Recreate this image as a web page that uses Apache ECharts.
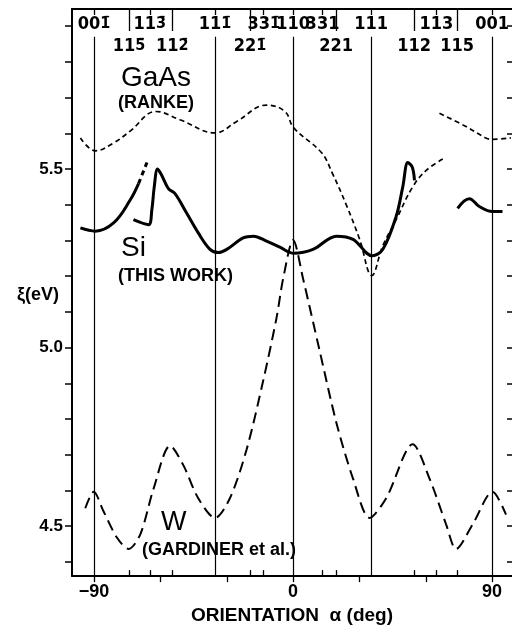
<!DOCTYPE html>
<html>
<head>
<meta charset="utf-8">
<script src="https://cdn.jsdelivr.net/npm/echarts@6/dist/echarts.min.js"></script>
<style>html,body{margin:0;padding:0;background:#fff}#c{width:512px;height:630px}</style>
</head>
<body>
<div id="c"></div>
<script>
// ---- data ----
const xMin = -100, xMax = 99, yMin = 4.36, yMax = 5.948;
const gaasLeft = [[-96.2,5.587],[-89.4,5.551],[-81.2,5.573],[-73.7,5.606],[-62.0,5.661],[-51.2,5.638],[-35.3,5.601],[-25.5,5.633],[-12.0,5.679],[-3.7,5.661],[0.3,5.615],[12.8,5.546],[17.9,5.486],[24.1,5.399],[30.1,5.303],[35.6,5.202],[40.5,5.284],[46.6,5.358],[54.1,5.450],[60.2,5.496],[67.7,5.528]];
const gaasRight = [[66.2,5.656],[78.2,5.619],[87.2,5.587],[90.2,5.583],[98.5,5.587]];
const siA = [[-96.2,5.335],[-89.4,5.326],[-81.2,5.349],[-73.7,5.413],[-69.9,5.459]];
const siAext = [[-69.9,5.459],[-66.1,5.518]];
const siB = [[-72.2,5.358],[-65.4,5.344],[-63.9,5.385],[-62.8,5.450],[-61.3,5.500],[-59.4,5.482],[-56.4,5.445],[-53.4,5.431],[-48.1,5.376],[-42.9,5.321],[-37.6,5.275],[-33.8,5.266],[-30.0,5.275],[-22.6,5.307],[-18.0,5.312],[-12.0,5.298],[-6.0,5.281],[0.3,5.264],[9.0,5.275],[19.6,5.312],[27.1,5.303],[35.8,5.257],[40.6,5.275],[46.6,5.367],[49.6,5.450],[51.9,5.518],[53.9,5.505],[54.9,5.468]];
const siC = [[74.4,5.390],[79.7,5.417],[84.2,5.395],[90.2,5.381],[94.7,5.381]];
const wData = [[-94.0,4.550],[-90.2,4.596],[-85.7,4.541],[-79.7,4.468],[-74.4,4.436],[-69.1,4.477],[-63.1,4.605],[-55.6,4.725],[-49.6,4.670],[-42.9,4.578],[-35.3,4.523],[-28.6,4.578],[-21.0,4.715],[-13.5,4.908],[-7.5,5.083],[-4.5,5.193],[0,5.301],[4.5,5.193],[12.0,4.991],[19.6,4.789],[27.1,4.633],[34.6,4.523],[42.1,4.578],[54.1,4.729],[61.7,4.633],[69.2,4.505],[73.7,4.436],[81.2,4.505],[90.2,4.596],[96.3,4.532]];
const guideAngles = [-90, -35.3, 0, 35.3, 90];
const row1Angles = [-90, -64.8, -35.3, -13.3, 0, 13.3, 35.3, 64.8, 90];
const row1Labels = ['00{b|1\u0304}', '11{b|3\u0304}', '11{b|1\u0304}', '33{b|1\u0304}', '110', '331', '111', '113', '001'];
const row2Angles = [-74.2, -54.7, -19.5, 19.5, 54.7, 74.2];
const row2Labels = ['11{b|5\u0304}', '11{b|2\u0304}', '22{b|1\u0304}', '221', '112', '115'];
const bottomInsideTicks = [-74.2, -64.8, -54.7, -19.5, -13.3, 13.3, 19.5, 54.7, 64.8, 74.2];
const bottomOutsideTicks = [-90, -60, -30, 0, 30, 60, 90];
const xTickLabels = [-90, 0, 90];
const yTicks = [4.4,4.5,4.6,4.7,4.8,4.9,5.0,5.1,5.2,5.3,5.4,5.5,5.6,5.7,5.8,5.9];
const yTickLabels = [4.5, 5.0, 5.5];
const guideTop = 5.87;

// ---- chart ----
const chart = echarts.init(document.getElementById('c'), null, {renderer: 'canvas'});
const black = '#000';
const FONT = 'Liberation Sans, Arial, sans-serif';
const NARROW = 'Liberation Sans Narrow, DejaVu Sans Condensed, sans-serif';
const BARFONT = 'DejaVu Sans Condensed, DejaVu Sans, sans-serif';
function lookup(angles, labels) { return v => { for (let i = 0; i < angles.length; i++) if (Math.abs(angles[i] - v) < 1e-6) return labels[i]; return ''; }; }
const richBar = {b: {fontFamily: BARFONT, fontSize: 16, fontWeight: 'bold', color: black}};

const guideLines = guideAngles.map(a => [{coord: [a, yMin]}, {coord: [a, guideTop]}]);

const base = {type: 'line', xAxisIndex: 0, yAxisIndex: 0, symbol: 'none', silent: true, animation: false};

chart.setOption({
  animation: false,
  backgroundColor: '#fff',
  grid: {left: 72, right: -1, top: 9, bottom: 44.3, containLabel: false},
  xAxis: [
    {type: 'value', position: 'bottom', min: xMin, max: xMax,
     axisLine: {show: true, onZero: false, lineStyle: {color: black, width: 2}},
     axisTick: {show: true, inside: true, length: 6, customValues: bottomInsideTicks, lineStyle: {color: black, width: 1.3}},
     axisLabel: {show: false}, splitLine: {show: false}},
    {type: 'value', position: 'bottom', min: xMin, max: xMax,
     axisLine: {show: false, onZero: false},
     axisTick: {show: true, inside: false, length: 6, customValues: bottomOutsideTicks, lineStyle: {color: black, width: 1.3}},
     axisLabel: {show: true, customValues: xTickLabels, margin: 7, color: black, fontSize: 18, fontWeight: 'bold', fontFamily: FONT,
       formatter: v => (v < 0 ? '\u2212' + Math.abs(v) : String(v))},
     name: 'ORIENTATION  \u03b1 (deg)', nameLocation: 'middle', nameGap: 21,
     nameTextStyle: {color: black, fontSize: 19, fontWeight: 'bold', fontFamily: FONT},
     splitLine: {show: false}},
    {type: 'value', position: 'top', min: xMin, max: xMax,
     axisLine: {show: true, onZero: false, lineStyle: {color: black, width: 2}},
     axisTick: {show: true, inside: true, length: 6, customValues: row1Angles, lineStyle: {color: black, width: 1.3}},
     axisLabel: {show: true, inside: true, margin: 6, customValues: row1Angles, color: black, fontSize: 18, fontWeight: 'bold', fontFamily: NARROW,
       formatter: lookup(row1Angles, row1Labels), rich: richBar},
     splitLine: {show: false}},
    {type: 'value', position: 'top', min: xMin, max: xMax,
     axisLine: {show: false, onZero: false},
     axisTick: {show: true, inside: true, length: 22, customValues: row2Angles, lineStyle: {color: black, width: 1.3}},
     axisLabel: {show: true, inside: true, margin: 28, customValues: row2Angles, color: black, fontSize: 18, fontWeight: 'bold', fontFamily: NARROW,
       formatter: lookup(row2Angles, row2Labels), rich: richBar},
     splitLine: {show: false}}
  ],
  yAxis: [
    {type: 'value', position: 'left', min: yMin, max: yMax,
     axisLine: {show: true, onZero: false, lineStyle: {color: black, width: 2}},
     axisTick: {show: true, inside: false, length: 7, customValues: yTicks, lineStyle: {color: black, width: 1.5}},
     axisLabel: {show: true, customValues: yTickLabels, margin: 9, color: black, fontSize: 17, fontWeight: 'bold', fontFamily: FONT,
       formatter: v => v.toFixed(1)},
     splitLine: {show: false}},
    {type: 'value', position: 'right', min: yMin, max: yMax,
     axisLine: {show: false, onZero: false},
     axisTick: {show: true, inside: true, length: 5, customValues: yTicks, lineStyle: {color: black, width: 1.5}},
     axisLabel: {show: false}, splitLine: {show: false}}
  ],
  series: [
    Object.assign({}, base, {name: 'guides', data: [], markLine: {silent: true, symbol: 'none', animation: false, label: {show: false},
      lineStyle: {color: black, width: 1.2, type: 'solid'}, data: guideLines}}),
    Object.assign({}, base, {name: 'GaAs a', data: gaasLeft, smooth: 0.4, lineStyle: {color: black, width: 1.7, type: [5, 3.5]}}),
    Object.assign({}, base, {name: 'GaAs b', data: gaasRight, smooth: 0.4, lineStyle: {color: black, width: 1.7, type: [5, 3.5]}}),
    Object.assign({}, base, {name: 'Si a', data: siA, smooth: 0.4, lineStyle: {color: black, width: 3}}),
    Object.assign({}, base, {name: 'Si a ext', data: siAext, lineStyle: {color: black, width: 3, type: [5, 4]}}),
    Object.assign({}, base, {name: 'Si b', data: siB, smooth: 0.35, lineStyle: {color: black, width: 3}}),
    Object.assign({}, base, {name: 'Si c', data: siC, smooth: 0.4, lineStyle: {color: black, width: 3}}),
    Object.assign({}, base, {name: 'W', data: wData, smooth: 0.3, lineStyle: {color: black, width: 2, type: [11, 6]}})
  ],
  graphic: [
    {type: 'text', silent: true, style: {x: 121, y: 78, text: 'GaAs', fill: black, font: '28px ' + FONT, verticalAlign: 'middle'}},
    {type: 'text', silent: true, style: {x: 118, y: 103, text: '(RANKE)', fill: black, font: 'bold 18px ' + FONT, verticalAlign: 'middle'}},
    {type: 'text', silent: true, style: {x: 121, y: 248, text: 'Si', fill: black, font: '28px ' + FONT, verticalAlign: 'middle'}},
    {type: 'text', silent: true, style: {x: 118, y: 276, text: '(THIS WORK)', fill: black, font: 'bold 18px ' + FONT, verticalAlign: 'middle'}},
    {type: 'text', silent: true, style: {x: 161, y: 523, text: 'W', fill: black, font: '27px ' + FONT, verticalAlign: 'middle'}},
    {type: 'text', silent: true, style: {x: 142, y: 550, text: '(GARDINER et al.)', fill: black, font: 'bold 18px ' + FONT, verticalAlign: 'middle'}},
    {type: 'text', silent: true, style: {x: 17, y: 295, text: '\u03be(eV)', fill: black, font: 'bold 18px ' + FONT, verticalAlign: 'middle'}}
  ]
});
</script>
</body>
</html>
